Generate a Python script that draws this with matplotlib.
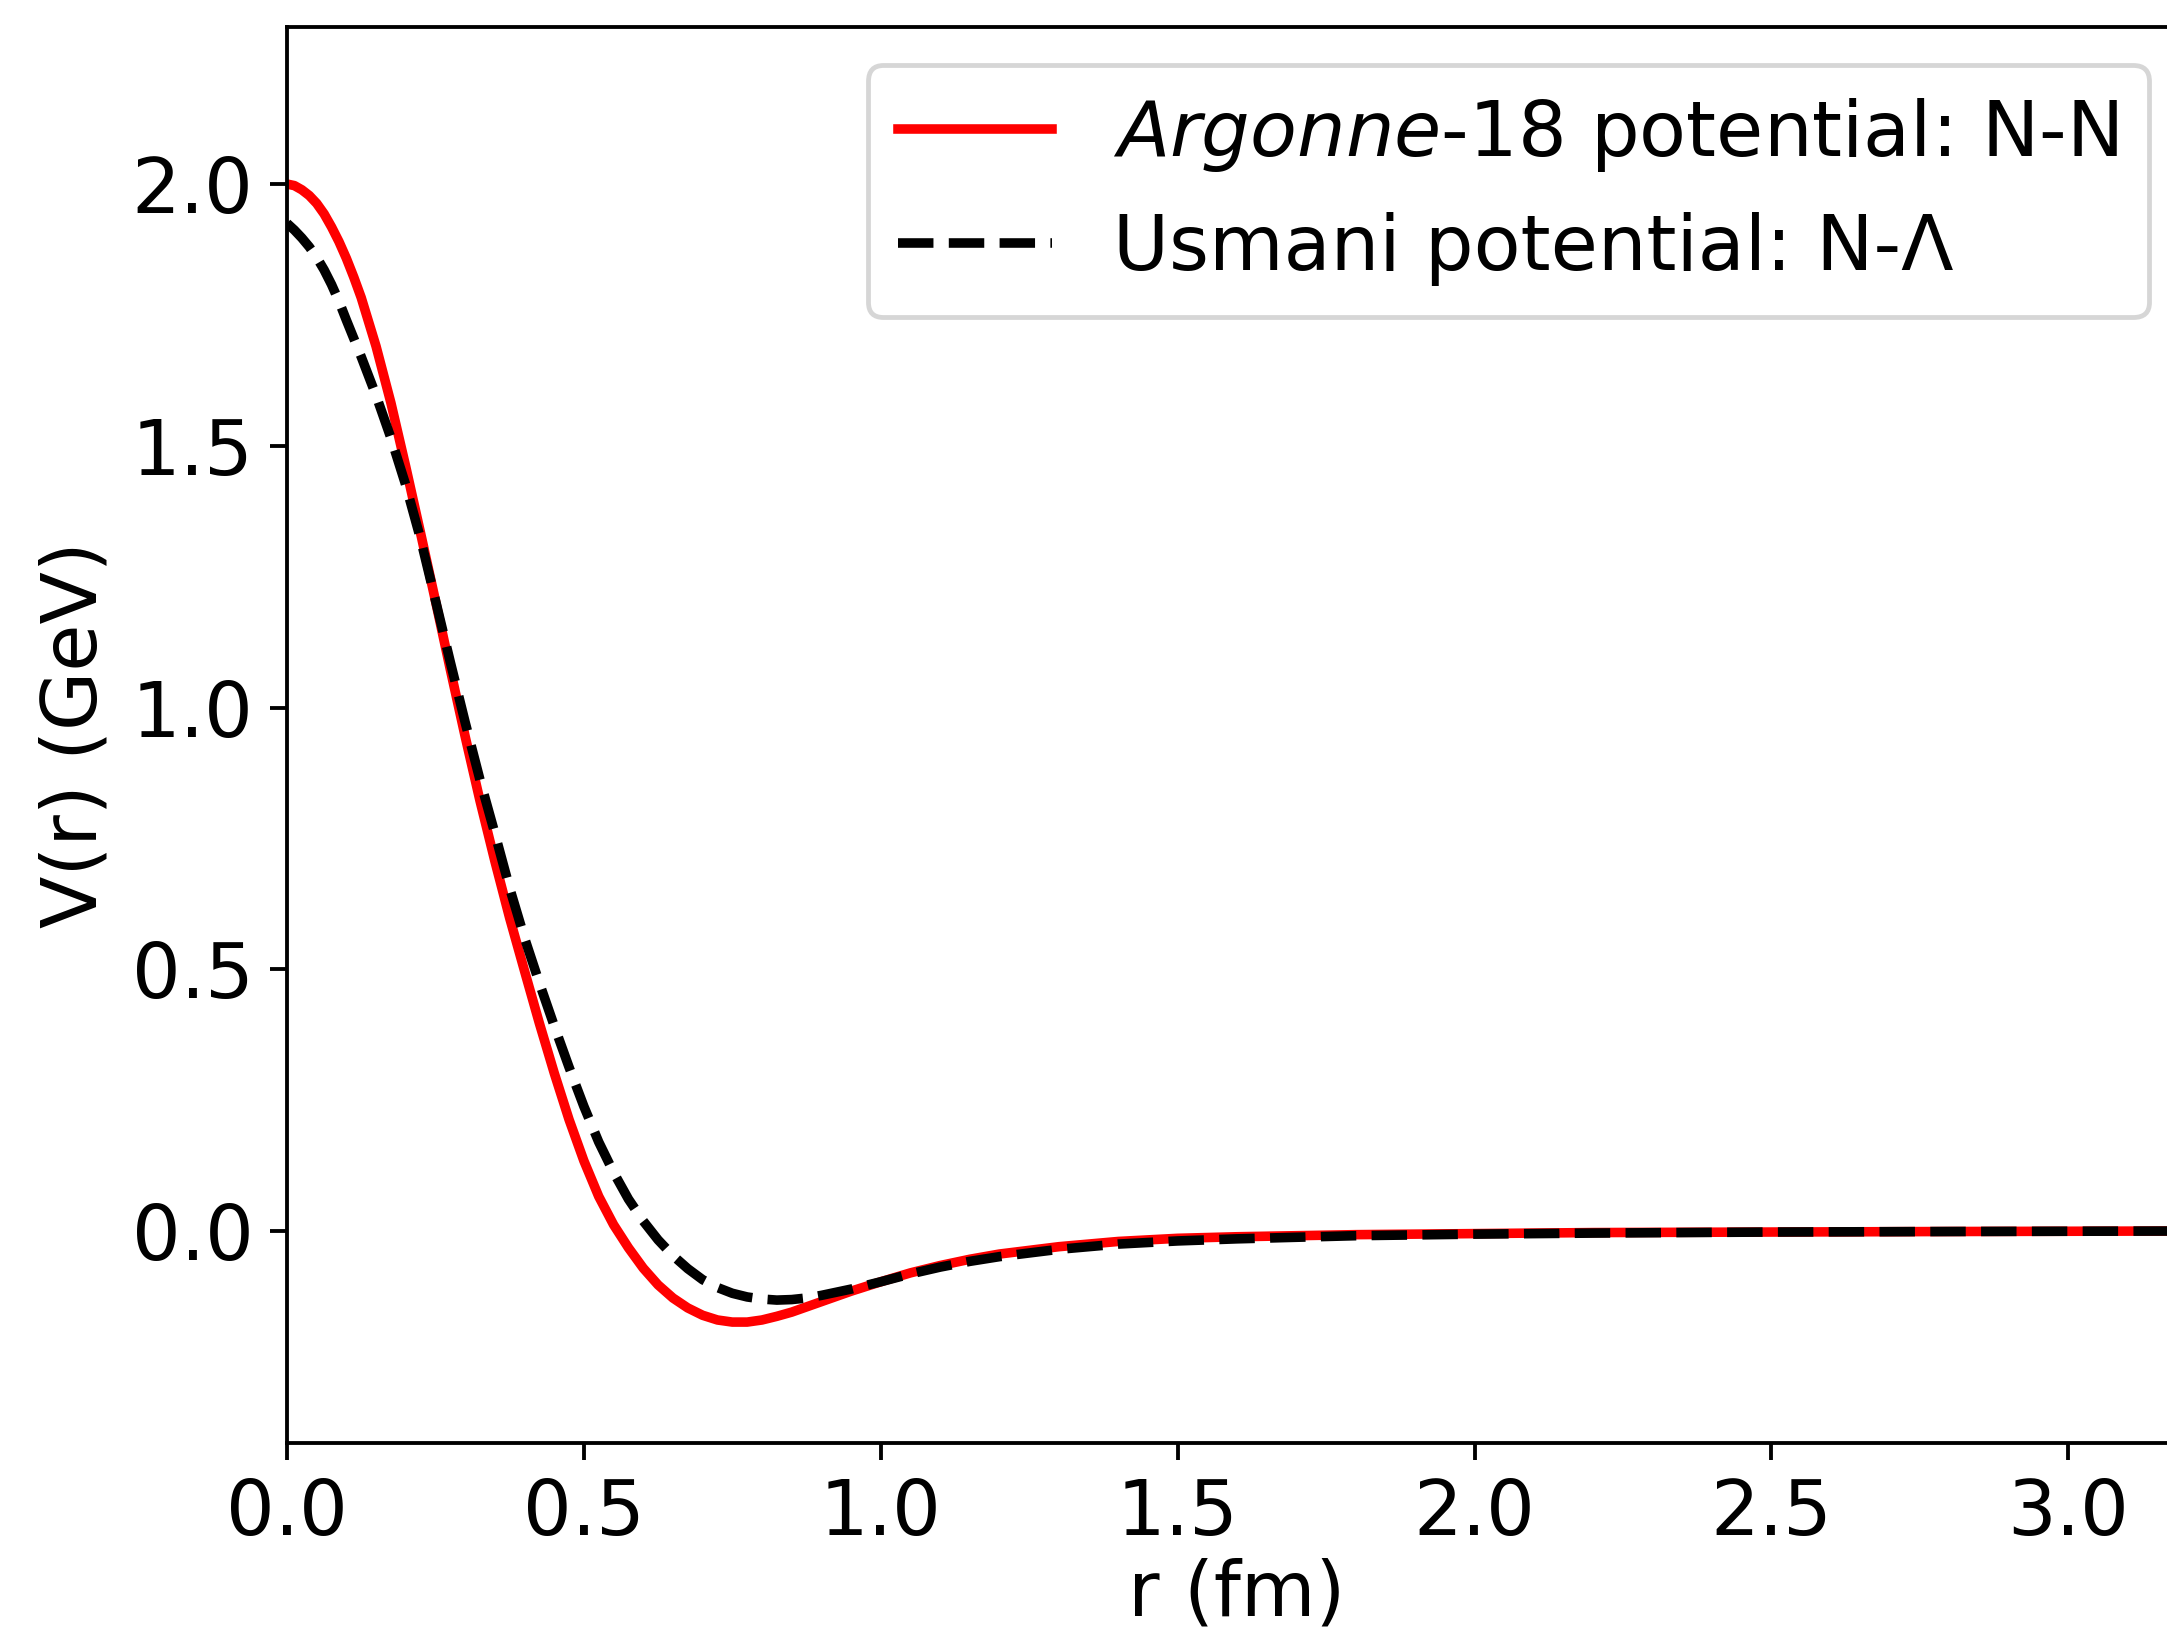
import matplotlib
matplotlib.use("Agg")
import matplotlib.pyplot as plt

# radial distance (fm)
r_fm = [0.000, 0.0125, 0.025, 0.0375, 0.050, 0.0625, 0.075, 0.0875, 0.100, 0.1125,
        0.125, 0.150, 0.175, 0.200, 0.225,
        0.250, 0.275, 0.300, 0.325, 0.350, 0.375, 0.400, 0.425, 0.450, 0.475,
        0.500, 0.525, 0.550, 0.575, 0.600, 0.625, 0.650, 0.675, 0.700, 0.725,
        0.750, 0.775, 0.800, 0.825, 0.850, 0.875, 0.900, 0.950, 1.000, 1.050,
        1.100, 1.150, 1.200, 1.300, 1.400, 1.500, 1.600, 1.700, 1.800, 2.000,
        2.200, 2.500, 2.800, 3.200]

# Argonne-18 N-N potential (GeV)
v_nn = [2.000, 1.997, 1.989, 1.978, 1.963, 1.943, 1.918, 1.890, 1.858, 1.822,
        1.783, 1.690, 1.582, 1.460, 1.333,
        1.204, 1.073, 0.945, 0.822, 0.707, 0.598, 0.497, 0.397, 0.302, 0.213,
        0.134, 0.066, 0.012, -0.032, -0.071, -0.103, -0.128, -0.147, -0.161, -0.170,
        -0.174, -0.174, -0.170, -0.163, -0.155, -0.145, -0.135, -0.115, -0.097, -0.080,
        -0.066, -0.054, -0.044, -0.030, -0.020, -0.014, -0.011, -0.009, -0.007, -0.005,
        -0.003, -0.002, -0.001, 0.000]

# Usmani N-Lambda potential (GeV)
v_nl = [1.925, 1.912, 1.897, 1.880, 1.860, 1.836, 1.808, 1.776, 1.740, 1.705,
        1.670, 1.596, 1.515, 1.425, 1.322,
        1.205, 1.087, 0.972, 0.862, 0.760, 0.655, 0.560, 0.474, 0.392, 0.313,
        0.238, 0.170, 0.112, 0.061, 0.019, -0.017, -0.047, -0.072, -0.093, -0.108,
        -0.119, -0.126, -0.130, -0.132, -0.131, -0.128, -0.123, -0.111, -0.097, -0.082,
        -0.069, -0.058, -0.049, -0.035, -0.025, -0.019, -0.015, -0.012, -0.009, -0.006,
        -0.004, -0.002, -0.001, 0.000]

x_ticks = [0.0, 0.5, 1.0, 1.5, 2.0, 2.5, 3.0]
y_ticks = [0.0, 0.5, 1.0, 1.5, 2.0]

plt.rcParams['font.size'] = 16
plt.rcParams['font.family'] = ['DejaVu Sans']

dpi = 345
fig = plt.figure(figsize=(2167 / dpi, 1635 / dpi), dpi=dpi)
ax = fig.add_axes([287 / 2167, 1 - 1443 / 1635, (2187 - 287) / 2167, (1443 - 27) / 1635])

ax.plot(r_fm, v_nn, color='red', lw=2, ls='-', label=r'$\it{Argonne}$-18 potential: N-N')
ax.plot(r_fm, v_nl, color='black', lw=2, ls='--', label='Usmani potential: N-Λ')

ax.set_xlim(0, 3.2)
ax.set_ylim(-0.405, 2.30)
ax.set_xticks(x_ticks)
ax.set_yticks(y_ticks)
ax.set_xlabel('r (fm)', labelpad=1.5)
ax.set_ylabel('V(r) (GeV)')
ax.legend(loc='upper right')

fig.savefig('out.png', dpi=dpi)
